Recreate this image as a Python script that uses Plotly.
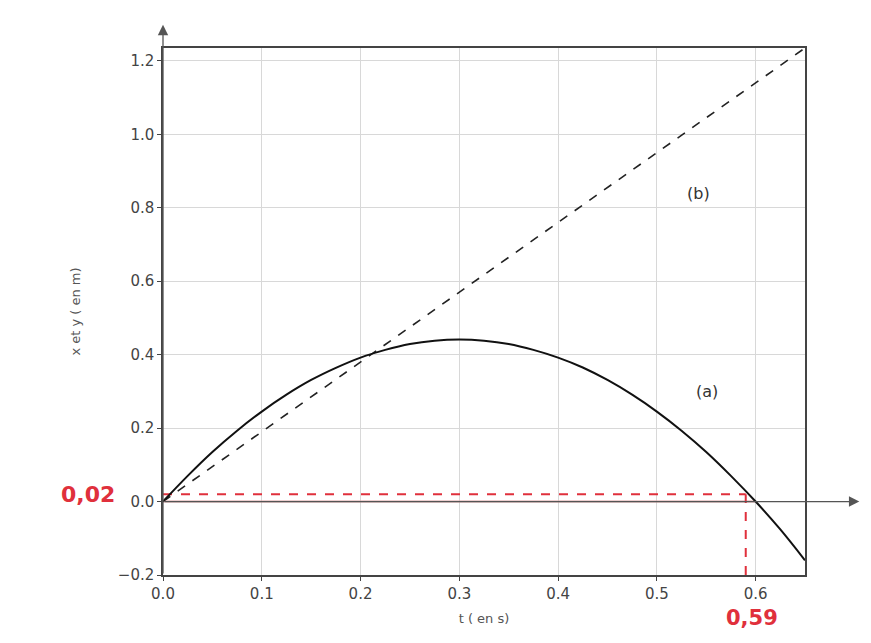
import plotly.graph_objects as go

# Curve (a): values
t_a = [0.0, 0.025, 0.05, 0.075, 0.10, 0.125, 0.15, 0.175, 0.20, 0.225, 0.25, 0.275, 0.30,
       0.325, 0.35, 0.375, 0.40, 0.425, 0.45, 0.475, 0.50, 0.525, 0.55, 0.575, 0.60, 0.625, 0.65]
y_a = [0.0, 0.070, 0.135, 0.193, 0.245, 0.291, 0.331, 0.364, 0.392, 0.413, 0.429, 0.438, 0.441,
       0.438, 0.429, 0.413, 0.392, 0.365, 0.331, 0.291, 0.245, 0.193, 0.135, 0.070, 0.0, -0.076, -0.16]

# Line (b)
t_b = [0.0, 0.65]
y_b = [0.0, 1.235]

# Red reading lines
t_read = 0.59
y_read = 0.02
x_ticks = [0.0, 0.1, 0.2, 0.3, 0.4, 0.5, 0.6]
y_ticks = [-0.2, 0.0, 0.2, 0.4, 0.6, 0.8, 1.0, 1.2]

font = "DejaVu Sans"
red = "#e0303c"

fig = go.Figure()

fig.add_trace(go.Scatter(x=t_b, y=y_b, mode="lines",
                         line=dict(color="#222", width=1.6, dash="dash"),
                         showlegend=False, hoverinfo="skip"))
fig.add_trace(go.Scatter(x=[0, 0.6], y=[0, 0], mode="lines",
                         line=dict(color="#d9a0a0", width=2),
                         showlegend=False, hoverinfo="skip"))
fig.add_trace(go.Scatter(x=[0, t_read], y=[y_read, y_read], mode="lines",
                         line=dict(color=red, width=2, dash="dash"),
                         showlegend=False, hoverinfo="skip", cliponaxis=False))
fig.add_trace(go.Scatter(x=[t_read, t_read], y=[-0.2, y_read], mode="lines",
                         line=dict(color=red, width=2, dash="dash"),
                         showlegend=False, hoverinfo="skip", cliponaxis=False))
fig.add_trace(go.Scatter(x=t_a, y=y_a, mode="lines", line_shape="spline",
                         line=dict(color="#111", width=2),
                         showlegend=False, hoverinfo="skip"))

annotations = [
    # x axis arrow
    dict(x=0.705, y=0, xref="x", yref="y", ax=0, ay=0, axref="x", ayref="y",
         showarrow=True, arrowhead=2, arrowsize=1.6, arrowwidth=1.3, arrowcolor="#555", text=""),
    # y axis arrow
    dict(x=0, y=1.298, xref="x", yref="y", ax=0, ay=-0.2, axref="x", ayref="y",
         showarrow=True, arrowhead=2, arrowsize=1.6, arrowwidth=1.3, arrowcolor="#555", text=""),
    dict(x=0.542, y=0.84, xref="x", yref="y", text="(b)", showarrow=False,
         font=dict(family=font, size=16, color="#333")),
    dict(x=0.551, y=0.30, xref="x", yref="y", text="(a)", showarrow=False,
         font=dict(family=font, size=16, color="#333")),
    dict(x=-0.072, y=y_read, xref="paper", yref="y", text="<b>0,02</b>", showarrow=False,
         font=dict(family=font, size=22, color=red), xanchor="right", yanchor="middle"),
    dict(x=0.917, y=-0.081, xref="paper", yref="paper", text="<b>0,59</b>", showarrow=False,
         font=dict(family=font, size=21, color=red), xanchor="center", yanchor="middle"),
]

fig.update_layout(
    width=863, height=635,
    margin=dict(l=155, r=66, t=40, b=68),
    paper_bgcolor="white", plot_bgcolor="white",
    font=dict(family=font, size=15, color="#444"),
    annotations=annotations,
    xaxis=dict(range=[0, 0.65], tickvals=x_ticks, tickformat=".1f",
               showgrid=True, gridcolor="#d8d8d8", gridwidth=1,
               showline=True, linecolor="#444", linewidth=1.5, mirror=True,
               ticks="outside", ticklen=4, tickcolor="#444", zeroline=False,
               title=dict(text="t ( en s)", font=dict(size=13, color="#555"), standoff=12)),
    yaxis=dict(range=[-0.2, 1.235], tickvals=y_ticks, tickformat=".1f",
               showgrid=True, gridcolor="#d8d8d8", gridwidth=1,
               showline=True, linecolor="#444", linewidth=1.5, mirror=True,
               ticks="outside", ticklen=4, tickcolor="#444", zeroline=False,
               title=dict(text="x et y ( en m)", font=dict(size=13, color="#555"), standoff=34)),
)

fig.write_html("out.html")
